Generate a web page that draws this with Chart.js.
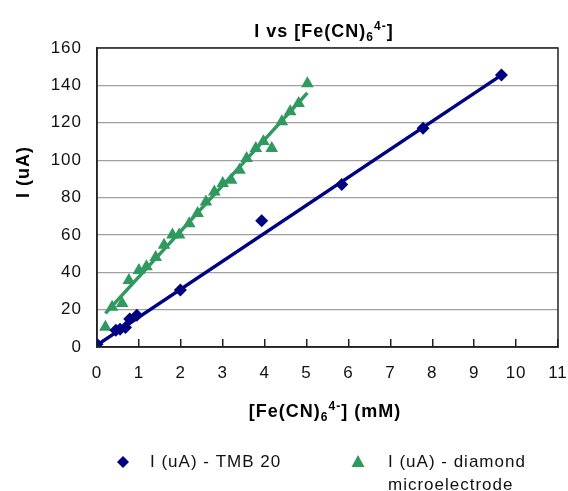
<!DOCTYPE html>
<html>
<head>
<meta charset="utf-8">
<script src="https://cdn.jsdelivr.net/npm/chart.js@4/dist/chart.umd.min.js"></script>
<style>
  html, body { margin: 0; padding: 0; background: #fff; }
  #wrap { width: 568px; height: 491px; }
</style>
</head>
<body>
<div id="wrap"><canvas id="myChart" width="568" height="491"></canvas></div>
<script>
// TMB 20 electrode
const tmbX = [0, 0.45, 0.55, 0.68, 0.78, 0.95, 1.99, 3.93, 5.84, 7.78, 9.65];
const tmbY = [1.5, 9, 9.5, 10.5, 15, 17, 30.5, 67.5, 87, 117, 145.5];
// diamond microelectrode
const diaX = [0.2, 0.36, 0.6, 0.76, 1.0, 1.18, 1.4, 1.6, 1.8, 1.96, 2.2, 2.4, 2.6, 2.8, 3.0, 3.2, 3.4, 3.57, 3.79, 3.97, 4.17, 4.41, 4.61, 4.81, 5.02];
const diaY = [10.7, 21.4, 23.3, 35.7, 41, 43, 48, 54.5, 60, 60, 66, 71.5, 77.7, 83, 87.6, 89.3, 94.7, 101, 106.3, 110, 106.3, 120.6, 126, 130.4, 141];
// linear trend lines (end points)
const tmbFitX = [0, 9.65];
const tmbFitY = [1, 145.5];
const diaFitX = [0.2, 5.02];
const diaFitY = [18, 136];

const seriesNames = ['I (uA) - TMB 20', 'I (uA) - diamond', 'microelectrode'];
const xTicks = [0, 1, 2, 3, 4, 5, 6, 7, 8, 9, 10, 11];
const yTicks = [0, 20, 40, 60, 80, 100, 120, 140, 160];

const navy = '#000080';
const green = '#2f9960';
const FONT = '"Liberation Sans", Arial, Helvetica, sans-serif';

const pts = (xs, ys) => xs.map((x, i) => ({ x: x, y: ys[i] }));

// draws text with a subscript / superscript piece
function richText(ctx, parts, cx, base, size) {
    const small = Math.round(size * 0.68);
    let w = 0;
    parts.forEach(p => {
        ctx.font = 'bold ' + (p[1] ? small : size) + 'px ' + FONT;
        p.w = ctx.measureText(p[0]).width;
        w += p.w;
    });
    let x = cx - w / 2;
    ctx.textAlign = 'left';
    ctx.textBaseline = 'alphabetic';
    parts.forEach(p => {
        ctx.font = 'bold ' + (p[1] ? small : size) + 'px ' + FONT;
        let dy = p[1] == 'sub' ? 4 : p[1] == 'sup' ? -7 : 0;
        ctx.fillText(p[0], x, base + dy);
        x += p.w;
    });
}

const decor = {
    id: 'decor',
    beforeDraw(chart) {
        chart.ctx.letterSpacing = '1px';
    },
    afterDraw(chart) {
        const ctx = chart.ctx;
        const a = chart.chartArea;
        ctx.save();
        // frame round the plot
        ctx.strokeStyle = '#222';
        ctx.lineWidth = 1.5;
        ctx.strokeRect(a.left, a.top, a.right - a.left, a.bottom - a.top);

        ctx.fillStyle = '#000';
        richText(ctx, [['I vs [Fe(CN)'], ['6', 'sub'], ['4-', 'sup'], [']']], 324, 37, 18);
        richText(ctx, [['[Fe(CN)'], ['6', 'sub'], ['4-', 'sup'], ['] (mM)']], 325, 417, 18);

        ctx.save();
        ctx.translate(29, 172);
        ctx.rotate(-Math.PI / 2);
        ctx.font = 'bold 18px ' + FONT;
        ctx.textAlign = 'center';
        ctx.fillText('I (uA)', 0, 0);
        ctx.restore();

        // legend
        ctx.fillStyle = navy;
        ctx.beginPath();
        ctx.moveTo(117, 462); ctx.lineTo(123, 456); ctx.lineTo(129, 462); ctx.lineTo(123, 468);
        ctx.closePath();
        ctx.fill();
        ctx.fillStyle = green;
        ctx.beginPath();
        ctx.moveTo(358, 455); ctx.lineTo(364.5, 467); ctx.lineTo(351.5, 467);
        ctx.closePath();
        ctx.fill();
        ctx.fillStyle = '#111';
        ctx.font = '17px ' + FONT;
        ctx.textAlign = 'left';
        ctx.fillText(seriesNames[0], 150, 467);
        ctx.fillText(seriesNames[1], 388, 467);
        ctx.fillText(seriesNames[2], 388, 490);
        ctx.restore();
    }
};

const ctx = document.getElementById('myChart').getContext('2d');
const chart = new Chart(ctx, {
    type: 'scatter',
    data: {
        datasets: [
            {
                label: 'TMB 20 trend',
                data: pts(tmbFitX, tmbFitY),
                showLine: true,
                borderColor: navy,
                borderWidth: 3.5,
                pointRadius: 0
            },
            {
                label: 'diamond trend',
                data: pts(diaFitX, diaFitY),
                showLine: true,
                borderColor: green,
                borderWidth: 3.5,
                pointRadius: 0
            },
            {
                label: seriesNames[0],
                data: pts(tmbX, tmbY),
                pointStyle: 'rectRot',
                pointRadius: 6.5,
                backgroundColor: navy,
                borderWidth: 0
            },
            {
                label: seriesNames[1] + ' ' + seriesNames[2],
                data: pts(diaX, diaY),
                pointStyle: 'triangle',
                pointRadius: 7.3,
                backgroundColor: green,
                borderWidth: 0
            }
        ]
    },
    options: {
        responsive: false,
        animation: false,
        layout: { padding: { top: 48, right: 10, left: 0, bottom: 0 } },
        plugins: {
            legend: { display: false },
            title: { display: false },
            tooltip: { enabled: false }
        },
        scales: {
            x: {
                type: 'linear',
                min: 0,
                max: 11,
                afterBuildTicks: (s) => { s.ticks = xTicks.map(v => ({ value: v })); },
                afterFit: (s) => { s.height = 144; s.paddingLeft = 0; s.paddingRight = 0; },
                grid: { drawOnChartArea: false, drawTicks: true, tickLength: -8, color: '#222', lineWidth: 1.5 },
                border: { color: '#222', width: 1.5 },
                ticks: { color: '#111', padding: 24, font: { family: FONT, size: 17 } }
            },
            y: {
                min: 0,
                max: 160,
                afterBuildTicks: (s) => { s.ticks = yTicks.map(v => ({ value: v })); },
                afterFit: (s) => { s.width = 97; s.paddingTop = 0; s.paddingBottom = 0; },
                grid: { drawTicks: false, color: '#a0a0a0', lineWidth: 1.2 },
                border: { color: '#222', width: 1.5 },
                ticks: { color: '#111', padding: 15, font: { family: FONT, size: 17 } }
            }
        }
    },
    plugins: [decor]
});
</script>
</body>
</html>
